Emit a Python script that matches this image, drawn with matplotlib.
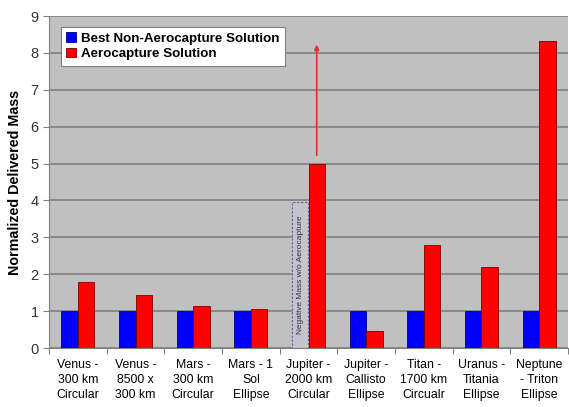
import matplotlib
matplotlib.use("Agg")
import matplotlib.pyplot as plt
import numpy as np
from matplotlib.patches import Rectangle

plt.rcParams['font.family'] = ['Liberation Sans', 'DejaVu Sans']

categories = ["Venus -\n300 km\nCircular", "Venus -\n8500 x\n300 km", "Mars -\n300 km\nCircular",
              "Mars - 1\nSol\nEllipse", "Jupiter -\n2000 km\nCircular", "Jupiter -\nCallisto\nEllipse",
              "Titan -\n1700 km\nCircualr", "Uranus -\nTitania\nEllipse", "Neptune\n- Triton\nEllipse"]
best_non_aero = [1, 1, 1, 1, np.nan, 1, 1, 1, 1]
aerocapture = [1.80, 1.43, 1.15, 1.05, 5.0, 0.47, 2.80, 2.20, 8.33]
negative_box_height = 3.95
arrow_from, arrow_to = 5.15, 8.3

fig = plt.figure(figsize=(5.69, 4.07), dpi=100)
ax = fig.add_axes([49/569, 59/407, 519/569, 332/407])
ax.set_facecolor("#c0c0c0")
x = np.arange(len(categories))
w = 0.286
ax.bar(x - w/2, best_non_aero, w, color="#0000ff", edgecolor="#000080", linewidth=0.6,
       label="Best Non-Aerocapture Solution", zorder=3)
ax.bar(x + w/2, aerocapture, w, color="#ff0000", edgecolor="#800000", linewidth=0.6,
       label="Aerocapture Solution", zorder=3)

ax.set_xlim(-0.5, len(categories) - 0.5)
ax.set_ylim(0, 9)
ax.set_yticks(range(0, 10))
ax.grid(axis="y", color="#808080", linewidth=1.2, zorder=0)
ax.set_axisbelow(True)
ax.set_xticks(np.arange(-0.5, len(categories)), minor=False)
ax.set_xticklabels([])
ax.set_xticks(x, minor=True)
ax.set_xticklabels(categories, minor=True, fontsize=8.8, linespacing=1.35)
ax.tick_params(axis="x", which="minor", length=0, pad=8)
ax.tick_params(axis="x", which="major", length=4, color="#808080")
ax.tick_params(axis="y", length=4, color="#808080", labelsize=10.5, labelcolor="#333333")
for s in ["top", "right"]:
    ax.spines[s].set_visible(False)
for s in ["left", "bottom"]:
    ax.spines[s].set_color("#808080")

ax.set_ylabel("Normalized Delivered Mass", fontsize=10.3, fontweight="bold", labelpad=6)

# negative mass dashed box
j = 4
ax.add_patch(Rectangle((j - w, 0), w, negative_box_height, fill=True, facecolor="#c4c4cc",
                       edgecolor="#6060c0", linestyle=(0, (2, 1.5)), linewidth=0.8, zorder=2))
ax.text(j - w/2, negative_box_height/2, "Negative Mass w/o Aerocapture", rotation=90,
        ha="center", va="center", fontsize=6, color="#333333", zorder=4)

ax.annotate("", xy=(j + w/2, arrow_to), xytext=(j + w/2, arrow_from),
            arrowprops=dict(arrowstyle="-|>", color="#e03030", lw=1.2, mutation_scale=7), zorder=5)

leg = ax.legend(loc="upper left", bbox_to_anchor=(0.023, 0.967), borderaxespad=0,
                fontsize=9.6, frameon=True,
                fancybox=False, edgecolor="#808080", facecolor="white", framealpha=1,
                handlelength=0.7, handleheight=0.7,
                handletextpad=0.4, borderpad=0.4, labelspacing=0.25)
for t in leg.get_texts():
    t.set_fontweight("bold")
leg.get_frame().set_linewidth(0.8)

fig.savefig("out.png", dpi=100)
